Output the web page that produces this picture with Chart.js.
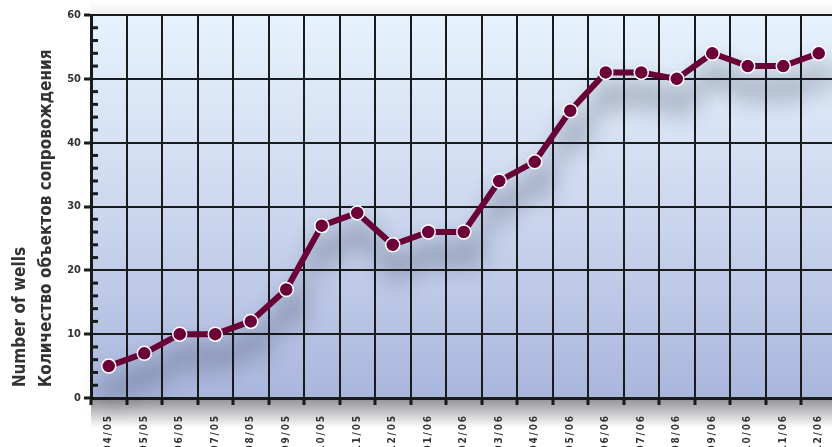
<!DOCTYPE html>
<html>
<head>
<meta charset="utf-8">
<script src="https://cdn.jsdelivr.net/npm/chart.js@4"></script>
<style>
  html, body { margin: 0; padding: 0; background: #fff; overflow: hidden; }
  canvas { display: block; }
</style>
</head>
<body>
<canvas id="wellsChart" width="845" height="447"></canvas>
<script>
const months = ['04/05', '05/05', '06/05', '07/05', '08/05', '09/05', '10/05', '11/05', '12/05',
  '01/06', '02/06', '03/06', '04/06', '05/06', '06/06', '07/06', '08/06', '09/06', '10/06', '11/06', '12/06'];
const wells = [5, 7, 10, 10, 12, 17, 27, 29, 24, 26, 26, 34, 37, 45, 51, 51, 50, 54, 52, 52, 54];
const yMax = 60;
const majorStep = 10;
const minorStep = 2;
const axisTitle = ['Number of wells', 'Количество объектов сопровождения'];

const FONT = "'Liberation Sans Narrow', 'DejaVu Sans Condensed', 'Roboto', sans-serif";
const INK = '#1b1b1b';

// gradient plot area + shadows round the plot
const plotBg = {
  id: 'plotBg',
  beforeDraw(chart) {
    const { ctx, chartArea: a } = chart;
    ctx.save();
    ctx.fillStyle = '#fff';
    ctx.fillRect(0, 0, chart.width, chart.height);
    const sg = ctx.createLinearGradient(0, a.bottom, 0, a.bottom + 30);
    sg.addColorStop(0, 'rgba(70,70,80,0.6)');
    sg.addColorStop(1, 'rgba(70,70,80,0)');
    ctx.fillStyle = sg;
    ctx.fillRect(a.left, a.bottom, a.right - a.left, 30);
    const tg = ctx.createLinearGradient(0, a.top - 14, 0, a.top);
    tg.addColorStop(0, 'rgba(120,120,130,0)');
    tg.addColorStop(1, 'rgba(120,120,130,0.12)');
    ctx.fillStyle = tg;
    ctx.fillRect(a.left, a.top - 14, a.right - a.left, 14);
    const g = ctx.createLinearGradient(0, a.top, 0, a.bottom);
    g.addColorStop(0, '#e6f2fc');
    g.addColorStop(0.5, '#cdd8ef');
    g.addColorStop(1, '#a9b6dc');
    ctx.fillStyle = g;
    ctx.fillRect(a.left, a.top, a.right - a.left, a.bottom - a.top);
    ctx.restore();
  }
};

// soft shadow under the line
const lineShadow = {
  id: 'lineShadow',
  beforeDatasetsDraw(chart) {
    const ctx = chart.ctx;
    ctx.save();
    ctx.shadowColor = 'rgba(40,45,70,0.5)';
    ctx.shadowBlur = 24;
    ctx.shadowOffsetX = 4;
    ctx.shadowOffsetY = 22;
  },
  afterDatasetsDraw(chart) {
    chart.ctx.restore();
  }
};

// minor ticks drawn inside the plot, right of the y axis
const minorTicks = {
  id: 'minorTicks',
  afterDraw(chart) {
    const { ctx, chartArea: a } = chart;
    const y = chart.scales.y;
    ctx.save();
    ctx.strokeStyle = INK;
    ctx.lineWidth = 3;
    y.ticks.forEach(t => {
      if (t.value % majorStep === 0) return;
      const py = y.getPixelForValue(t.value);
      ctx.beginPath();
      ctx.moveTo(a.left, py);
      ctx.lineTo(a.left + 7, py);
      ctx.stroke();
    });
    ctx.restore();
  }
};

const ctx = document.getElementById('wellsChart').getContext('2d');
new Chart(ctx, {
  type: 'line',
  data: {
    labels: months,
    datasets: [{
      data: wells,
      borderColor: '#6d0039',
      borderWidth: 6,
      pointRadius: 7,
      pointBackgroundColor: '#6d0039',
      pointBorderColor: '#ffffff',
      pointBorderWidth: 1.5,
      tension: 0,
      clip: false
    }]
  },
  options: {
    responsive: false,
    animation: false,
    layout: { padding: { top: 15, right: 6, left: 0, bottom: 0 } },
    plugins: {
      legend: { display: false },
      tooltip: { enabled: false }
    },
    scales: {
      x: {
        offset: true,
        grid: { offset: true, color: INK, lineWidth: 2, tickLength: 7, tickWidth: 3, tickColor: INK },
        border: { color: INK, width: 3 },
        ticks: {
          autoSkip: false,
          maxRotation: 90,
          minRotation: 90,
          padding: 11,
          color: '#333',
          font: { family: FONT, size: 10, weight: 'bold' },
          callback: (v, i) => months[i].split('').join('\u2009')
        },
        afterFit: s => { s.height = 447 - 398; }
      },
      y: {
        min: 0,
        max: yMax,
        ticks: {
          stepSize: minorStep,
          autoSkip: false,
          padding: 3,
          color: '#333',
          font: { family: FONT, size: 11, weight: 'bold' },
          callback: v => (v % majorStep === 0 ? v : '')
        },
        grid: {
          color: c => (c.tick && c.tick.value % majorStep === 0 ? INK : 'rgba(0,0,0,0)'),
          lineWidth: 2,
          tickLength: 7,
          tickWidth: 3
        },
        border: { color: INK, width: 3 },
        title: {
          display: true,
          // leading spaces lift the bottom-aligned title off the axis end
          text: axisTitle.map(t => '\u00A0\u00A0' + t),
          align: 'start',
          color: '#333',
          font: { family: FONT, size: 17, weight: 'bold', lineHeight: 1.5 },
          padding: { top: 8, bottom: 0 }
        },
        afterFit: s => { s.width = 91; }
      }
    }
  },
  plugins: [plotBg, lineShadow, minorTicks]
});
</script>
</body>
</html>
